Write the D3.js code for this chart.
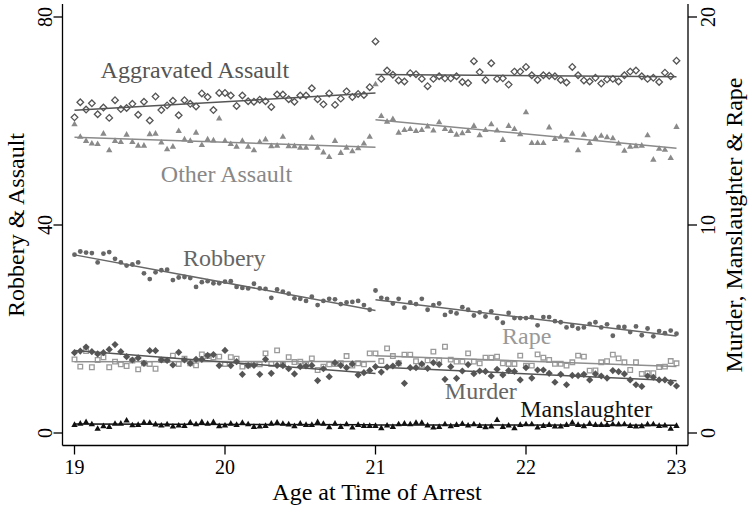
<!DOCTYPE html>
<html><head><meta charset="utf-8">
<script src="https://cdn.jsdelivr.net/npm/d3@7"></script>
<style>body{margin:0;background:#fff}svg{display:block}text{font-family:"Liberation Serif","Times New Roman",serif}</style>
</head><body><svg id="c" width="750" height="507"></svg>
<script>
// ---- data ----
const ageLeft = d3.range(52).map(i => 19 + i / 26);
const ageRight = d3.range(53).map(i => 21 + i / 26);
const xTicks = [19, 20, 21, 22, 23];
const yLeftTicks = [0, 40, 80];
const yRightTicks = [0, 10, 20];

const aggLeft = [60.7,63.6,62.2,63.4,61.3,62.6,60.6,64.0,62.3,62.5,63.3,61.2,63.7,60.1,64.7,62.1,63.0,63.9,61.1,64.0,63.3,62.8,65.3,64.6,62.1,65.4,65.4,64.9,62.9,64.9,63.8,63.7,64.1,63.8,62.7,65.1,65.1,64.2,63.7,64.9,64.9,66.3,64.2,63.2,65.3,63.1,64.3,65.7,64.6,65.2,65.0,66.5];
const aggRight = [75.3,68.1,69.7,68.9,67.8,67.6,69.2,69.0,68.1,66.7,68.1,68.6,68.2,68.2,68.6,67.5,67.3,71.5,69.4,67.9,71.1,68.1,68.2,67.0,69.5,69.5,70.4,68.8,67.9,68.8,68.7,68.6,67.9,67.4,70.4,68.8,67.8,67.6,68.3,67.2,68.0,68.1,67.6,68.8,69.5,69.7,68.6,68.1,68.3,67.5,69.3,68.6,71.6];
const othLeft = [59.4,57.0,56.2,55.7,55.6,57.6,54.4,56.2,56.0,57.4,56.0,55.3,55.3,57.5,57.6,55.9,54.6,55.1,58.1,56.5,56.2,57.8,55.4,56.5,56.3,60.5,56.2,55.6,55.1,56.2,55.1,54.4,56.0,56.5,55.2,55.3,57.0,55.2,55.2,54.9,54.9,56.8,54.9,54.0,53.1,56.2,53.9,54.9,54.2,54.8,55.7,57.0];
const othRight = [67.1,61.0,59.9,60.4,57.8,58.3,58.5,58.1,58.3,59.0,58.2,59.8,58.5,58.1,57.4,57.7,58.1,59.1,57.3,58.3,59.4,58.2,56.4,59.1,58.5,57.5,61.7,55.8,55.8,55.8,58.8,56.6,57.0,56.3,57.6,54.4,57.4,55.8,56.7,57.2,56.9,56.7,55.7,54.3,55.1,55.2,55.3,57.3,52.6,54.7,54.5,52.9,58.9];
const robLeft = [34.3,34.9,34.7,34.6,32.8,34.5,34.8,33.5,32.8,32.2,32.4,32.8,30.7,29.6,30.9,31.3,31.4,29.4,29.9,30.0,29.8,28.1,29.0,29.2,28.8,28.8,29.1,29.2,28.1,27.9,27.8,28.7,27.8,27.7,26.0,27.6,27.2,26.8,25.9,25.8,25.4,26.2,24.6,25.4,25.8,25.7,24.8,25.1,25.2,25.4,24.6,23.7];
const robRight = [27.4,26.0,25.8,24.9,25.8,24.1,25.1,24.8,25.8,23.7,24.6,24.9,22.7,23.3,23.0,24.2,23.7,22.6,23.2,22.4,23.4,22.1,21.2,23.1,22.1,22.1,22.1,22.3,20.7,22.3,22.3,21.5,21.3,20.3,20.6,20.1,20.3,21.0,21.3,20.3,20.9,18.7,20.4,20.4,19.4,20.5,18.8,20.1,18.6,19.6,19.2,19.7,19.1];
const rapeLeft = [3.54,3.19,3.94,3.16,3.51,3.64,3.16,3.43,3.30,3.22,3.48,3.06,3.35,3.32,3.09,3.51,3.51,3.72,3.32,3.57,3.35,3.25,3.78,3.70,3.64,3.67,3.32,3.65,3.57,3.19,3.25,3.32,3.30,3.83,3.32,3.97,3.29,3.65,3.41,3.43,3.30,3.59,3.03,3.19,3.30,3.32,3.35,3.70,3.24,3.35,3.30,3.83];
const rapeRight = [3.83,3.46,4.07,3.70,3.35,3.77,3.77,3.45,3.24,3.49,3.91,3.49,4.15,3.53,3.43,3.43,3.83,3.43,3.35,3.62,3.62,3.67,3.35,3.32,3.32,3.72,3.24,3.24,3.78,3.62,3.51,3.33,3.33,3.24,3.40,3.72,3.67,3.00,3.01,3.40,3.45,3.77,3.59,3.40,3.03,3.40,2.84,2.87,2.88,3.17,3.19,3.46,3.35];
const murLeft = [3.86,3.94,4.13,3.91,3.80,3.86,4.02,4.25,3.91,3.67,3.51,3.61,3.35,3.96,3.96,3.51,3.49,3.27,3.88,3.51,3.35,3.54,3.54,3.73,3.77,3.24,3.97,3.24,3.43,2.82,3.24,3.25,2.82,3.54,2.87,3.25,3.24,3.09,2.84,3.19,3.22,3.25,2.52,3.09,2.71,3.38,3.25,3.14,3.32,2.79,2.90,3.01];
const murRight = [3.19,2.93,3.17,3.22,3.35,2.39,3.14,3.14,3.32,3.11,3.38,3.30,2.58,3.19,2.63,2.98,3.29,2.85,2.98,2.96,2.74,3.06,2.79,3.00,2.96,2.55,3.14,2.64,3.03,3.03,2.87,2.44,2.82,2.32,2.77,2.76,2.82,2.55,2.84,2.74,2.64,3.00,2.95,2.84,2.55,2.32,2.24,2.74,2.68,2.55,2.55,2.42,2.26];
const manLeft = [0.40,0.46,0.53,0.43,0.21,0.34,0.30,0.45,0.46,0.61,0.38,0.40,0.51,0.50,0.42,0.37,0.42,0.32,0.37,0.35,0.51,0.43,0.53,0.45,0.53,0.34,0.37,0.46,0.40,0.50,0.43,0.30,0.32,0.35,0.46,0.51,0.45,0.42,0.34,0.46,0.40,0.40,0.53,0.45,0.29,0.46,0.30,0.43,0.27,0.40,0.35,0.35];
const manRight = [0.35,0.24,0.37,0.30,0.43,0.46,0.43,0.50,0.50,0.37,0.27,0.30,0.43,0.34,0.40,0.45,0.37,0.43,0.35,0.29,0.32,0.63,0.30,0.37,0.24,0.40,0.43,0.43,0.27,0.35,0.40,0.32,0.32,0.40,0.51,0.40,0.34,0.46,0.40,0.40,0.40,0.43,0.42,0.43,0.35,0.32,0.34,0.42,0.43,0.35,0.37,0.21,0.35];

// ---- chart ----
const svg = d3.select("#c");
const x = d3.scaleLinear().domain([19, 23]).range([74.5, 676.5]);
const yL = d3.scaleLinear().domain([0, 80]).range([433, 17]);
const yR = d3.scaleLinear().domain([0, 20]).range([433, 17]);
const plotLeft = 62.5, plotRight = 688, plotTop = 4, plotBottom = 445.5;

const series = [
  {name: "Other Assault", L: othLeft, R: othRight, y: yL, mark: "tri", col: "#8a8a8a", lcol: "#8a8a8a"},
  {name: "Aggravated Assault", L: aggLeft, R: aggRight, y: yL, mark: "odiamond", col: "#555", lcol: "#555"},
  {name: "Robbery", L: robLeft, R: robRight, y: yL, mark: "circle", col: "#666", lcol: "#666"},
  {name: "Rape", L: rapeLeft, R: rapeRight, y: yR, mark: "osquare", col: "#9a9a9a", lcol: "#8f8f8f"},
  {name: "Murder", L: murLeft, R: murRight, y: yR, mark: "diamond", col: "#555", lcol: "#555"},
  {name: "Manslaughter", L: manLeft, R: manRight, y: yR, mark: "tri", col: "#111", lcol: "#111"}
];

function fit(xs, ys) {
  const mx = d3.mean(xs), my = d3.mean(ys);
  let sxy = 0, sxx = 0;
  xs.forEach((v, i) => { sxy += (v - mx) * (ys[i] - my); sxx += (v - mx) * (v - mx); });
  const b = sxy / sxx;
  return t => my + b * (t - mx);
}

const markPath = {
  odiamond: "M0,-3.3L3.3,0L0,3.3L-3.3,0Z",
  diamond: "M0,-3.6L3.6,0L0,3.6L-3.6,0Z",
  tri: "M0,-3.4L3.2,2.2L-3.2,2.2Z",
  osquare: "M-2.3,-2.3H2.3V2.3H-2.3Z"
};

const g = svg.append("g");
series.forEach(s => {
  const segs = [[ageLeft, s.L, 19, 21], [ageRight, s.R, 21, 23]];
  segs.forEach(([ages, vals, a0, a1]) => {
    const pts = ages.map((a, i) => [a, vals[i]]);
    const gg = g.append("g");
    if (s.mark === "circle") {
      gg.selectAll("circle").data(pts).join("circle")
        .attr("cx", d => x(d[0])).attr("cy", d => s.y(d[1])).attr("r", 2.4).attr("fill", s.col);
    } else {
      const hollow = s.mark === "odiamond" || s.mark === "osquare";
      gg.selectAll("path").data(pts).join("path")
        .attr("d", markPath[s.mark])
        .attr("transform", d => `translate(${x(d[0])},${s.y(d[1])})`)
        .attr("fill", hollow ? "none" : s.col)
        .attr("stroke", hollow ? s.col : "none")
        .attr("stroke-width", hollow ? 1.3 : 0);
    }
    const f = fit(ages, vals);
    g.append("line")
      .attr("x1", x(a0)).attr("x2", x(a1))
      .attr("y1", s.y(f(a0))).attr("y2", s.y(f(a1)))
      .attr("stroke", s.lcol).attr("stroke-width", 1.5);
  });
});

// axes
const axes = svg.append("g").attr("stroke", "#000").attr("stroke-width", 1.3);
axes.append("line").attr("x1", plotLeft).attr("x2", plotLeft).attr("y1", plotTop).attr("y2", plotBottom);
axes.append("line").attr("x1", plotRight).attr("x2", plotRight).attr("y1", plotTop).attr("y2", plotBottom);
axes.append("line").attr("x1", plotLeft).attr("x2", plotRight).attr("y1", plotBottom).attr("y2", plotBottom);

xTicks.forEach(t => {
  axes.append("line").attr("x1", x(t)).attr("x2", x(t)).attr("y1", plotBottom).attr("y2", plotBottom + 9);
  svg.append("text").attr("x", x(t)).attr("y", 474).attr("text-anchor", "middle")
    .attr("font-size", 20).text(t);
});
yLeftTicks.forEach(t => {
  axes.append("line").attr("x1", plotLeft - 9).attr("x2", plotLeft).attr("y1", yL(t)).attr("y2", yL(t));
  svg.append("text").attr("transform", `translate(45,${yL(t)}) rotate(-90)`)
    .attr("text-anchor", "middle").attr("dominant-baseline", "central").attr("font-size", 20).text(t);
});
yRightTicks.forEach(t => {
  axes.append("line").attr("x1", plotRight).attr("x2", plotRight + 9).attr("y1", yR(t)).attr("y2", yR(t));
  svg.append("text").attr("transform", `translate(708,${yR(t)}) rotate(-90)`)
    .attr("text-anchor", "middle").attr("dominant-baseline", "central").attr("font-size", 20).text(t);
});

svg.append("text").attr("x", 377).attr("y", 500).attr("text-anchor", "middle").attr("font-size", 24).text("Age at Time of Arrest");
svg.append("text").attr("transform", "translate(16,225) rotate(-90)").attr("text-anchor", "middle")
  .attr("dominant-baseline", "central").attr("font-size", 24).text("Robbery & Assault");
svg.append("text").attr("transform", "translate(734,225) rotate(-90)").attr("text-anchor", "middle")
  .attr("dominant-baseline", "central").attr("font-size", 24).text("Murder, Manslaughter & Rape");

// series labels (anchored in data units)
const labels = [
  {text: "Aggravated Assault", age: 19.80, val: 69.8, y: yL, col: "#555"},
  {text: "Other Assault", age: 20.01, val: 49.8, y: yL, col: "#888"},
  {text: "Robbery", age: 19.995, val: 33.7, y: yL, col: "#666"},
  {text: "Rape", age: 22.005, val: 4.66, y: yR, col: "#999"},
  {text: "Murder", age: 21.70, val: 2.03, y: yR, col: "#666"},
  {text: "Manslaughter", age: 22.40, val: 1.15, y: yR, col: "#111"}
];
labels.forEach(l => {
  svg.append("text").attr("x", x(l.age)).attr("y", l.y(l.val))
    .attr("text-anchor", "middle").attr("dominant-baseline", "central")
    .attr("font-size", 24).attr("fill", l.col).text(l.text);
});
</script></body></html>
